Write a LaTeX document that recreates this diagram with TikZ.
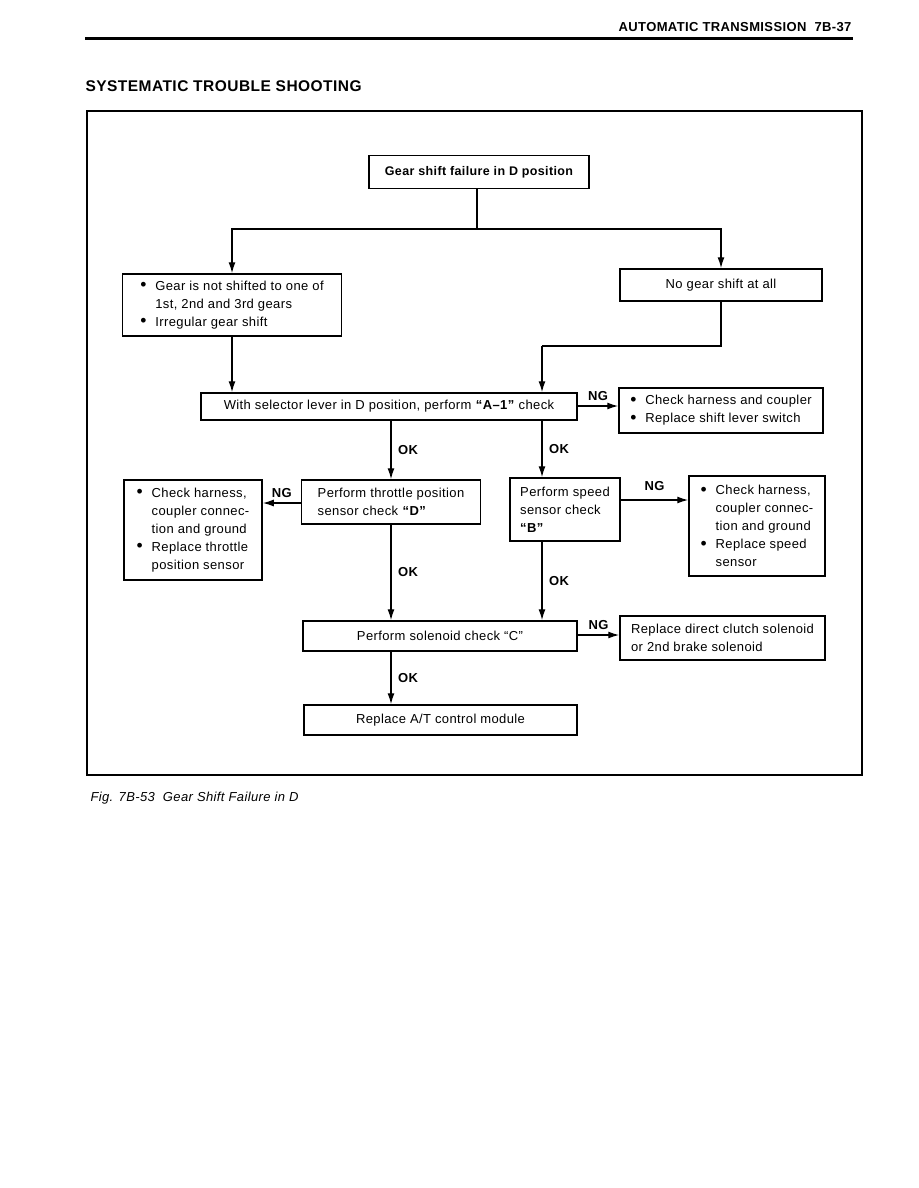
\documentclass[tikz,border=0pt]{standalone}
\usepackage{fontspec}
\setmainfont{Liberation Sans}[LetterSpace=3]
\usepackage{tikz}
\usetikzlibrary{arrows.meta,positioning,calc}
\newcommand{\bulitem}{\makebox[15pt][l]{\raisebox{-0.5pt}{\scalebox{1.35}{\textbullet}}}}
\newcommand{\bulcont}{\hspace*{15pt}}

\begin{document}
\begin{tikzpicture}[x=1pt,y=-1pt,
  every node/.style={font=\fontsize{13}{18}\selectfont},
  box/.style={draw,line width=1.5pt,inner sep=2pt,align=left},
  flow/.style={line width=1.4pt,-{Latex[length=11pt,width=7pt]}},
  wire/.style={line width=1.4pt},
  tag/.style={font=\bfseries\fontsize{13}{14}\selectfont}]
\useasboundingbox (0,0) rectangle (918,1188);
\node[anchor=east,font=\bfseries\fontsize{13}{14}\selectfont] (hdr) at (855,27) {AUTOMATIC TRANSMISSION\ \ 7B-37};
\draw[line width=3pt] (85,39) -- (853,39);
\node[anchor=west,font=\bfseries\fontsize{15.5}{18}\selectfont] (title) at (82,86) {SYSTEMATIC TROUBLE SHOOTING};
\draw[line width=1.5pt] (87,111) rectangle (862,775);
\node[anchor=west,font=\itshape\fontsize{13}{14}\selectfont] (cap) at (87,798) {Fig. 7B-53\ \ Gear Shift Failure in D};
% boxes
\node[box,font=\bfseries\fontsize{12.5}{18}\selectfont,minimum width=220pt,minimum height=33pt] (fail) at (479,172) {Gear shift failure in D position};
\node[box,minimum width=219pt,minimum height=62pt] (partial) at (232,305) {\bulitem Gear is not shifted to one of\\ \bulcont 1st, 2nd and 3rd gears\\ \bulitem Irregular gear shift};
\node[box,minimum width=202pt,minimum height=32pt] (noshift) at (721,285) {No gear shift at all};
\node[box,minimum width=376pt,minimum height=27pt] (aone) at (389,406.5) {With selector lever in D position, perform \textbf{“A–1”} check};
\node[box,minimum width=204pt,minimum height=45pt] (swfix) at (721,410.5) {\bulitem Check harness and coupler\\ \bulitem Replace shift lever switch};
\node[box,minimum width=179pt,minimum height=44pt] (tps) at (391,502) {Perform throttle position\\ sensor check \textbf{“D”}};
\node[box,minimum width=138pt,minimum height=100pt] (tpsfix) at (193,530) {\bulitem Check harness,\\ \bulcont coupler connec-\\ \bulcont tion and ground\\ \bulitem Replace throttle\\ \bulcont position sensor};
\node[box,minimum width=110pt,minimum height=63pt] (vss) at (565,509.5) {Perform speed\\ sensor check\\ \textbf{“B”}};
\node[box,minimum width=136pt,minimum height=100pt] (vssfix) at (757,526) {\bulitem Check harness,\\ \bulcont coupler connec-\\ \bulcont tion and ground\\ \bulitem Replace speed\\ \bulcont sensor};
\node[box,minimum width=274pt,minimum height=30pt] (sol) at (440,636) {Perform solenoid check “C”};
\node[box,minimum width=205pt,minimum height=44pt] (solfix) at (722.5,638) {Replace direct clutch solenoid\\ or 2nd brake solenoid};
\node[box,minimum width=273pt,minimum height=30pt] (tcm) at (440.5,720) {Replace A/T control module};
% junctions
\coordinate (split) at (477,229);
\coordinate (turn) at (542,346);
% connectors
\draw[wire] (fail.south -| split) -- (split);
\draw[flow] (split) -| (partial.north);
\draw[flow] (split) -| (noshift.north);
\draw[flow] (partial.south) -- (partial.south |- aone.north);
\draw[wire] (noshift.south) |- (turn);
\draw[flow] (turn) -- (turn |- aone.north);
\draw[flow] (aone.east |- 0,406) -- (swfix.west |- 0,406) node[tag,midway,above=1pt] (ng1) {NG};
\draw[flow] (tps.north |- aone.south) -- (tps.north) node[tag,midway,right=3pt] (ok1) {OK};
\draw[flow] (turn |- aone.south) -- (turn |- vss.north) node[tag,midway,right=3pt] (ok2) {OK};
\draw[flow] (tps.west |- 0,503) -- (tpsfix.east |- 0,503) node[tag,midway,above=1pt] (ng2) {NG};
\draw[flow] (vss.east |- 0,500) -- (vssfix.west |- 0,500) node[tag,midway,above=5pt] (ng3) {NG};
\draw[flow] (tps.south) -- (tps.south |- sol.north) node[tag,midway,right=3pt] (ok3) {OK};
\draw[flow] (turn |- vss.south) -- (turn |- sol.north) node[tag,midway,right=3pt] (ok4) {OK};
\draw[flow] (sol.east |- 0,635) -- (solfix.west |- 0,635) node[tag,midway,above=1pt] (ng4) {NG};
\draw[flow] (tps.south |- sol.south) -- (tps.south |- tcm.north) node[tag,midway,right=3pt] (ok5) {OK};
\end{tikzpicture}
\end{document}
